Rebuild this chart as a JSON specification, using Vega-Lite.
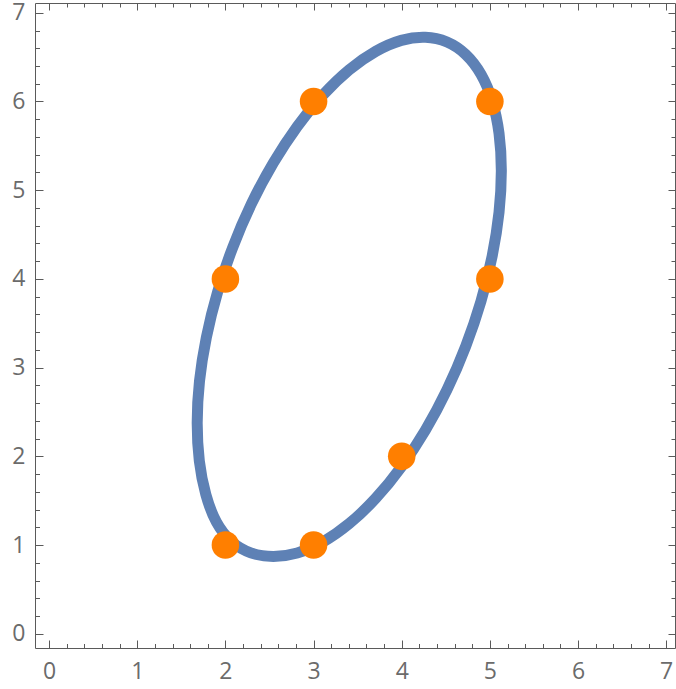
{
  "$schema": "https://vega.github.io/schema/vega-lite/v6.json",
  "width": 640,
  "height": 645,
  "autosize": {"type": "none"},
  "padding": {"left": 35, "top": 3, "right": 1, "bottom": 41},
  "background": "white",
  "config": {
    "view": {"stroke": "#5a5a5a", "strokeWidth": 1},
    "axis": {"grid": false, "domain": false, "tickColor": "#5a5a5a", "tickWidth": 1, "labelColor": "#6b6b6b", "labelFont": "Open Sans", "labelFontSize": 23, "labelFlush": false, "labelOverlap": false}
  },
  "datasets": {
    "ellipse": [
      {"i": 0, "x": 5.130, "y": 5.218},
      {"i": 1, "x": 5.104, "y": 5.640},
      {"i": 2, "x": 5.026, "y": 6.008},
      {"i": 3, "x": 4.899, "y": 6.307},
      {"i": 4, "x": 4.726, "y": 6.530},
      {"i": 5, "x": 4.514, "y": 6.670},
      {"i": 6, "x": 4.268, "y": 6.724},
      {"i": 7, "x": 3.995, "y": 6.689},
      {"i": 8, "x": 3.705, "y": 6.565},
      {"i": 9, "x": 3.405, "y": 6.358},
      {"i": 10, "x": 3.106, "y": 6.073},
      {"i": 11, "x": 2.815, "y": 5.719},
      {"i": 12, "x": 2.543, "y": 5.306},
      {"i": 13, "x": 2.296, "y": 4.848},
      {"i": 14, "x": 2.084, "y": 4.358},
      {"i": 15, "x": 1.911, "y": 3.851},
      {"i": 16, "x": 1.784, "y": 3.342},
      {"i": 17, "x": 1.706, "y": 2.848},
      {"i": 18, "x": 1.680, "y": 2.382},
      {"i": 19, "x": 1.704, "y": 1.950},
      {"i": 20, "x": 1.778, "y": 1.570},
      {"i": 21, "x": 1.897, "y": 1.262},
      {"i": 22, "x": 2.070, "y": 1.040},
      {"i": 23, "x": 2.288, "y": 0.912},
      {"i": 24, "x": 2.543, "y": 0.872},
      {"i": 25, "x": 2.815, "y": 0.911},
      {"i": 26, "x": 3.106, "y": 1.035},
      {"i": 27, "x": 3.405, "y": 1.242},
      {"i": 28, "x": 3.705, "y": 1.527},
      {"i": 29, "x": 3.995, "y": 1.881},
      {"i": 30, "x": 4.268, "y": 2.294},
      {"i": 31, "x": 4.514, "y": 2.752},
      {"i": 32, "x": 4.726, "y": 3.242},
      {"i": 33, "x": 4.899, "y": 3.749},
      {"i": 34, "x": 5.026, "y": 4.258},
      {"i": 35, "x": 5.104, "y": 4.752}
    ],
    "pts": [
      {"x": 2, "y": 1},
      {"x": 3, "y": 1},
      {"x": 4, "y": 2},
      {"x": 5, "y": 4},
      {"x": 5, "y": 6},
      {"x": 3, "y": 6},
      {"x": 2, "y": 4}
    ]
  },
  "layer": [
    {
      "data": {"name": "ellipse"},
      "mark": {"type": "line", "interpolate": "cardinal-closed", "stroke": "#5E81B5", "strokeWidth": 11},
      "encoding": {
        "x": {"field": "x", "type": "quantitative", "scale": {"domain": [-0.16, 7.1], "nice": false, "zero": false},
              "axis": {"orient": "bottom", "title": null, "values": [0, 1, 2, 3, 4, 5, 6, 7], "tickSize": -8, "labelPadding": 20}},
        "y": {"field": "y", "type": "quantitative", "scale": {"domain": [-0.16, 7.11], "nice": false, "zero": false},
              "axis": {"orient": "left", "title": null, "values": [0, 1, 2, 3, 4, 5, 6, 7], "tickSize": -8, "labelPadding": 18}},
        "order": {"field": "i", "type": "quantitative"}
      }
    },
    {
      "data": {"name": "pts"},
      "mark": {"type": "circle", "color": "#FF7F00", "opacity": 1, "size": 760},
      "encoding": {
        "x": {"field": "x", "type": "quantitative",
              "axis": {"orient": "top", "title": null, "values": [0, 1, 2, 3, 4, 5, 6, 7], "tickSize": -7, "labels": false}},
        "y": {"field": "y", "type": "quantitative",
              "axis": {"orient": "right", "title": null, "values": [0, 1, 2, 3, 4, 5, 6, 7], "tickSize": -7, "labels": false}}
      }
    },
    {
      "data": {"name": "pts"},
      "mark": {"type": "circle", "opacity": 0},
      "encoding": {
        "x": {"field": "x", "type": "quantitative",
              "axis": {"orient": "bottom", "title": null, "values": [0.2, 0.4, 0.6, 0.8, 1.2, 1.4, 1.6, 1.8, 2.2, 2.4, 2.6, 2.8, 3.2, 3.4, 3.6, 3.8, 4.2, 4.4, 4.6, 4.8, 5.2, 5.4, 5.6, 5.8, 6.2, 6.4, 6.6, 6.8], "tickSize": -4.5, "labels": false}},
        "y": {"field": "y", "type": "quantitative",
              "axis": {"orient": "left", "title": null, "values": [0.2, 0.4, 0.6, 0.8, 1.2, 1.4, 1.6, 1.8, 2.2, 2.4, 2.6, 2.8, 3.2, 3.4, 3.6, 3.8, 4.2, 4.4, 4.6, 4.8, 5.2, 5.4, 5.6, 5.8, 6.2, 6.4, 6.6, 6.8, 7.0], "tickSize": -4.5, "labels": false}}
      }
    },
    {
      "data": {"name": "pts"},
      "mark": {"type": "circle", "opacity": 0},
      "encoding": {
        "x": {"field": "x", "type": "quantitative",
              "axis": {"orient": "top", "title": null, "values": [0.2, 0.4, 0.6, 0.8, 1.2, 1.4, 1.6, 1.8, 2.2, 2.4, 2.6, 2.8, 3.2, 3.4, 3.6, 3.8, 4.2, 4.4, 4.6, 4.8, 5.2, 5.4, 5.6, 5.8, 6.2, 6.4, 6.6, 6.8], "tickSize": -4, "labels": false}},
        "y": {"field": "y", "type": "quantitative",
              "axis": {"orient": "right", "title": null, "values": [0.2, 0.4, 0.6, 0.8, 1.2, 1.4, 1.6, 1.8, 2.2, 2.4, 2.6, 2.8, 3.2, 3.4, 3.6, 3.8, 4.2, 4.4, 4.6, 4.8, 5.2, 5.4, 5.6, 5.8, 6.2, 6.4, 6.6, 6.8], "tickSize": -4, "labels": false}}
      }
    }
  ],
  "resolve": {"axis": {"x": "independent", "y": "independent"}}
}
